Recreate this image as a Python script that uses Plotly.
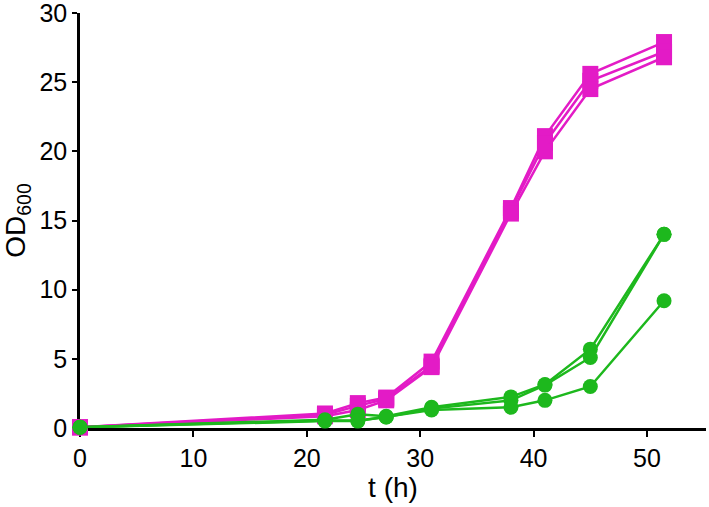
import plotly.graph_objects as go

t_h = [0, 21.6, 24.5, 27.0, 31.0, 38.0, 41.0, 45.0, 51.5]

# magenta replicates (squares)
pink_a = [0.05, 1.05, 1.8, 2.2, 4.8, 15.9, 21.1, 25.6, 27.9]
pink_b = [0.05, 0.95, 1.6, 2.1, 4.5, 15.7, 20.6, 25.1, 27.2]
pink_c = [0.05, 0.85, 1.3, 2.0, 4.4, 15.5, 20.0, 24.5, 26.8]

# green replicates (circles)
green_a = [0.05, 0.6, 1.0, 0.85, 1.5, 2.25, 3.15, 5.7, 14.0]
green_b = [0.05, 0.55, 0.55, 0.8, 1.4, 2.0, 3.1, 5.1, 14.0]
green_c = [0.05, 0.5, 0.5, 0.8, 1.3, 1.5, 2.0, 3.0, 9.2]

PINK = "#E31BC6"
GREEN = "#1DB81D"

fig = go.Figure()

for ys in (pink_a, pink_b, pink_c):
    fig.add_trace(
        go.Scatter(
            x=t_h,
            y=ys,
            mode="lines+markers",
            line={"color": PINK, "width": 2.5},
            marker={"symbol": "square", "size": 16, "color": PINK},
            cliponaxis=False,
            showlegend=False,
        )
    )

for ys in (green_a, green_b, green_c):
    fig.add_trace(
        go.Scatter(
            x=t_h,
            y=ys,
            mode="lines+markers",
            line={"color": GREEN, "width": 2.5},
            marker={"symbol": "circle", "size": 15, "color": GREEN},
            cliponaxis=False,
            showlegend=False,
        )
    )

axis_common = {
    "showgrid": False,
    "zeroline": False,
    "showline": True,
    "linecolor": "black",
    "linewidth": 2.5,
    "ticks": "outside",
    "ticklen": 6,
    "tickwidth": 2,
    "tickcolor": "black",
    "tickfont": {"size": 25, "color": "black"},
    "ticklabeloverflow": "allow",
    "automargin": False,
    "layer": "below traces",
}

fig.update_layout(
    width=709,
    height=507,
    paper_bgcolor="white",
    plot_bgcolor="white",
    font={"family": "Liberation Sans, Arial, sans-serif", "color": "black"},
    margin={"l": 80, "r": 3, "t": 13, "b": 79},
    xaxis={
        **axis_common,
        "range": [0, 55.2],
        "tickvals": [0, 10, 20, 30, 40, 50],
        "title": {"text": "t (h)", "font": {"size": 28}, "standoff": 4},
    },
    yaxis={
        **axis_common,
        "range": [0, 30],
        "tickvals": [0, 5, 10, 15, 20, 25, 30],
        "ticklen": 5,
        "title": {"text": "OD<sub>600</sub>", "font": {"size": 28}, "standoff": 12},
    },
)

# the page body has a default 8px margin; drop it so the figure fills the window
fig.write_html(
    "out.html",
    config={"displayModeBar": False},
    post_script="document.body.style.margin='0';",
)
